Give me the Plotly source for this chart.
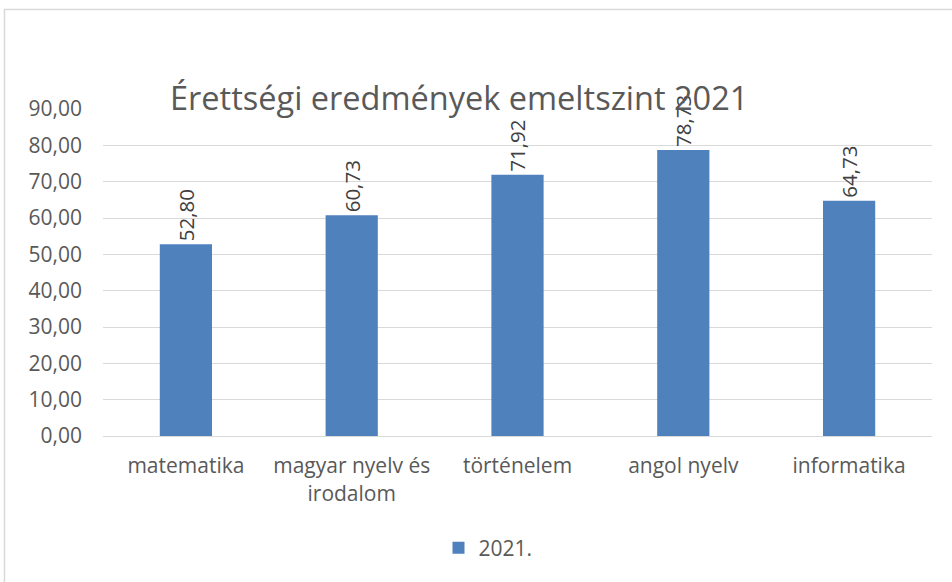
import plotly.graph_objects as go

categories = ["matematika", "magyar nyelv és<br>irodalom", "történelem", "angol nyelv", "informatika"]
values = [52.80, 60.73, 71.92, 78.73, 64.73]
series_name = "2021."
title_text = "Érettségi eredmények emeltszint 2021"

L, R, T, B = 103, 20, 109, 146
W, H = 952, 582
pw, ph = W - L - R, H - T - B

def px(x):
    return (x - L) / pw

def py(y):
    return (H - B - y) / ph

font = "Open Sans, Noto Sans, sans-serif"
fs = 21

fig = go.Figure()
fig.add_trace(go.Bar(
    x=categories, y=values, name=series_name,
    marker=dict(color="#4F81BD", line=dict(width=0)),
    texttemplate="%{y:.2f}", textposition="outside", textangle=-90,
    textfont=dict(size=fs, color="#404040", family=font),
    cliponaxis=False, showlegend=True,
))

fig.update_layout(
    width=W, height=H,
    margin=dict(l=L, r=R, t=T, b=B),
    paper_bgcolor="white", plot_bgcolor="white",
    separators=",.",
    bargap=0.685,
    font=dict(family=font, color="#595959"),
    showlegend=True,
    legend=dict(orientation="h", x=px(488), xanchor="center", y=py(548), yanchor="middle",
                font=dict(size=fs, color="#595959"), itemwidth=30),
    xaxis=dict(showline=True, linecolor="#D9D9D9", linewidth=1, ticks="",
               tickfont=dict(size=fs, color="#595959"), showgrid=False,
               ticklabelstandoff=11),
    yaxis=dict(range=[0, 90], dtick=10, tickformat=".2f", gridcolor="#D9D9D9",
               showline=False, zeroline=False, tickfont=dict(size=fs, color="#595959"),
               ticks="", ticklabelstandoff=20),
    annotations=[dict(text=title_text, xref="paper", yref="paper",
                      x=px(459), y=py(97), xanchor="center", yanchor="middle",
                      showarrow=False, font=dict(size=32.5, color="#595959", family=font))],
    shapes=[dict(type="rect", xref="paper", yref="paper",
                 x0=px(4.5), x1=px(1000), y0=py(9.5), y1=py(640),
                 line=dict(color="#D9D9D9", width=1.5), layer="below")],
)

fig.write_html("out.html", config={"displayModeBar": False},
               post_script="document.body.style.margin='0px';")
